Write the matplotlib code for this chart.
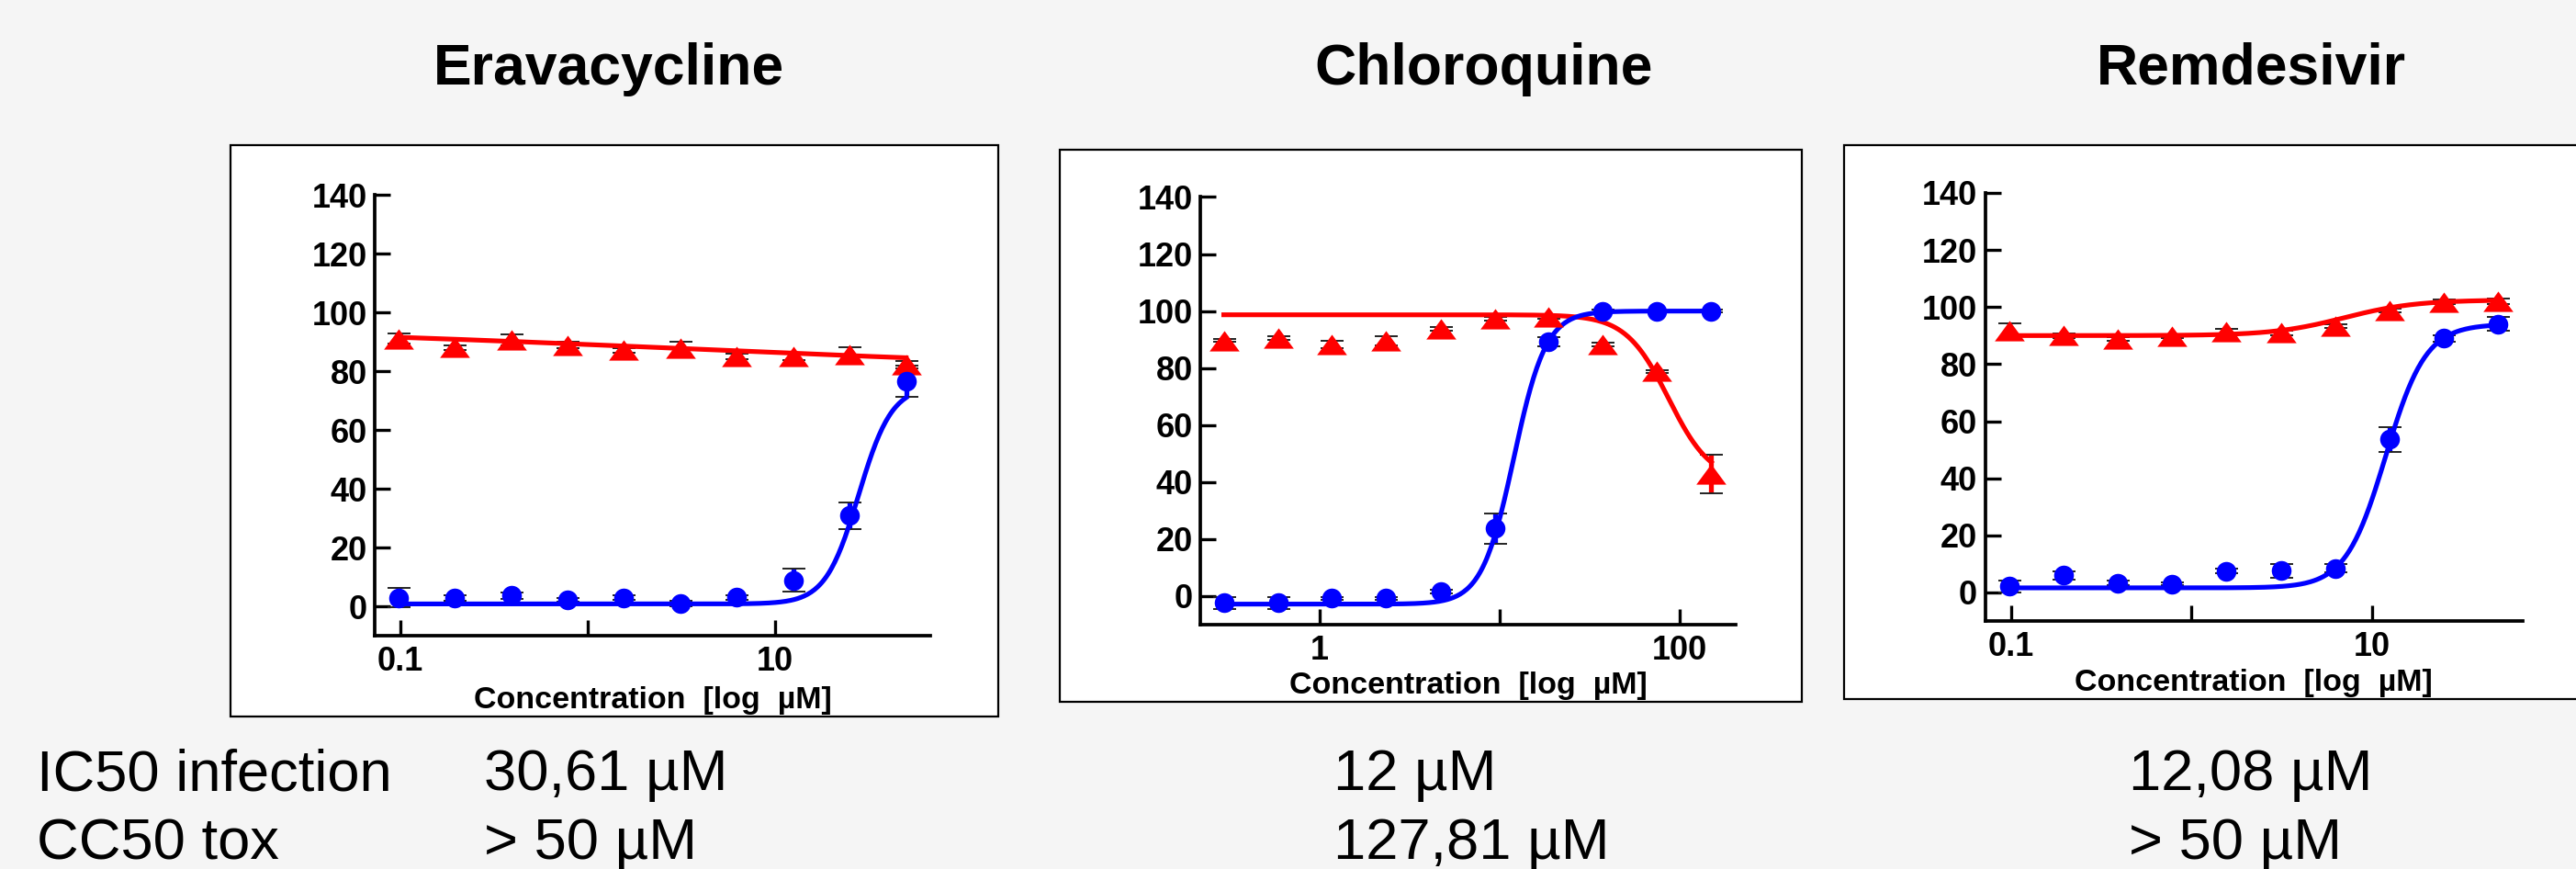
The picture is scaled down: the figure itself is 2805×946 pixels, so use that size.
import numpy as np
import matplotlib
matplotlib.use("Agg")
from matplotlib import pyplot as plt
from matplotlib.patches import Rectangle

plt.rcParams["font.family"] = ["Liberation Sans", "DejaVu Sans"]

# ---- data ----
titles = ["Eravacycline", "Chloroquine", "Remdesivir"]

conc_low = [0.098, 0.195, 0.39, 0.78, 1.56, 3.13, 6.25, 12.5, 25, 50]
conc_cq = [0.293, 0.586, 1.17, 2.34, 4.69, 9.38, 18.75, 37.5, 75, 150]

# infection (blue circles) and viability / tox (red triangles), % values
era_inf = [2.9, 2.8, 3.6, 2.3, 2.9, 1.0, 3.1, 8.9, 30.9, 76.5]
era_inf_err = [3.2, 0.8, 1.0, 0.6, 0.8, 1.0, 0.8, 3.8, 4.5, 5.4]
era_tox = [91.0, 88.1, 90.6, 88.9, 87.1, 87.7, 85.0, 84.9, 85.7, 82.2]
era_tox_err = [1.7, 0.8, 1.8, 1.0, 0.8, 2.2, 0.8, 1.0, 2.3, 1.3]

cq_inf = [-2.4, -2.4, -0.8, -0.8, 1.6, 23.7, 89.1, 100.0, 99.9, 100.0]
cq_inf_err = [2.1, 2.0, 0.6, 0.6, 0.5, 5.4, 1.6, 0.4, 0.4, 0.4]
cq_tox = [89.7, 90.5, 88.3, 89.5, 93.8, 97.2, 98.0, 88.3, 78.8, 42.9]
cq_tox_err = [0.4, 0.6, 1.4, 1.6, 0.6, 0.6, 0.6, 0.6, 0.6, 6.8]

rem_inf = [2.1, 6.0, 3.3, 3.0, 7.4, 7.6, 8.5, 53.6, 89.0, 94.0]
rem_inf_err = [2.0, 1.5, 0.8, 0.6, 0.8, 2.4, 1.5, 4.3, 1.0, 2.4]
rem_tox = [91.7, 90.0, 88.8, 89.8, 91.5, 91.0, 93.4, 98.8, 101.8, 101.9]
rem_tox_err = [2.6, 0.8, 0.6, 0.6, 0.8, 0.8, 0.6, 0.6, 0.7, 1.0]

# fitted 4PL curves: value at low conc, value at high conc, EC50, hill
era_inf_fit = [0.8, 75.0, 27.9, 4.9]
era_tox_fit = [95.7, 79.7, 3.1, 0.3]
cq_inf_fit = [-2.8, 100.0, 12.0, 4.86]
cq_tox_fit = [98.7, 40.0, 86.8, 3.66]
rem_inf_fit = [1.6, 94.0, 11.9, 3.9]
rem_tox_fit = [90.0, 102.5, 7.0, 2.2]

xtick_vals = [[0.1, 1, 10], [1, 10, 100], [0.1, 1, 10]]
xtick_labels = [["0.1", "", "10"], ["1", "", "100"], ["0.1", "", "10"]]
yticks = [0, 20, 40, 60, 80, 100, 120, 140]

row_labels = ["IC50 infection", "CC50 tox"]
ic50_text = ["30,61 µM", "12 µM", "12,08 µM"]
cc50_text = ["> 50 µM", "127,81 µM", "> 50 µM"]

panels = [
    (conc_low, era_inf, era_inf_err, era_tox, era_tox_err, era_inf_fit, era_tox_fit),
    (conc_cq, cq_inf, cq_inf_err, cq_tox, cq_tox_err, cq_inf_fit, cq_tox_fit),
    (conc_low, rem_inf, rem_inf_err, rem_tox, rem_tox_err, rem_inf_fit, rem_tox_fit),
]

# ---- layout (pixels of the 2805x946 canvas) ----
W, H = 2805, 946
axes_px = [(408, 212, 1013, 692), (1307, 214.5, 1890, 680), (2161.5, 210, 2747, 676)]
box_px = [(251, 158, 1087, 780), (1154, 163, 1962, 764), (2008, 158, 2815, 761)]
xlims = [(0.0729, 67.3), (0.217, 205), (0.0716, 68.4)]
title_x = [663, 1616, 2451]
value_x = [527, 1452, 2318]

BLUE = "#0000ff"
RED = "#ff0000"
tri = [(-1, -0.68), (1, -0.68), (0, 0.68), (-1, -0.68)]


def fourpl(x, p):
    lo, hi, c, h = p
    return lo + (hi - lo) / (1 + (c / x) ** h)


fig = plt.figure(figsize=(W / 100, H / 100), dpi=100)
fig.patch.set_facecolor("#f5f5f5")

for i, (conc, inf, inf_err, tox, tox_err, inf_fit, tox_fit) in enumerate(panels):
    bl, bt, br, bb = box_px[i]
    fig.add_artist(Rectangle((bl / W, 1 - bb / H), (br - bl) / W, (bb - bt) / H,
                             transform=fig.transFigure, facecolor="white",
                             edgecolor="black", lw=1.6, zorder=0))

    l, t, r, b = axes_px[i]
    ax = fig.add_axes([l / W, 1 - b / H, (r - l) / W, (b - t) / H])
    ax.set_facecolor("none")
    ax.set_xscale("log")
    ax.set_xlim(*xlims[i])
    ax.set_ylim(-10, 140)

    xs = np.logspace(np.log10(conc[0]), np.log10(conc[-1]), 300)
    ax.plot(xs, fourpl(xs, tox_fit), color=RED, lw=3.7, zorder=3)
    ax.plot(xs, fourpl(xs, inf_fit), color=BLUE, lw=3.7, zorder=3)

    for y, err, col, mk, ms in [(tox, tox_err, RED, tri, 23.5), (inf, inf_err, BLUE, "o", 15.5)]:
        ax.errorbar(conc, y, yerr=err, fmt="none", ecolor=col, elinewidth=3.8,
                    capsize=0, zorder=2)
        ax.errorbar(conc, y, yerr=err, fmt="none", ecolor="#222222", elinewidth=0,
                    capsize=9, capthick=1.4, zorder=2.5)
        ax.plot(conc, y, linestyle="none", marker=mk, ms=ms, color=col,
                mec=col, mew=0, zorder=4)

    for side in ["top", "right"]:
        ax.spines[side].set_visible(False)
    for side in ["left", "bottom"]:
        ax.spines[side].set_linewidth(2.7)

    ax.set_yticks(yticks)
    ax.set_xticks(xtick_vals[i], xtick_labels[i])
    ax.minorticks_off()
    ax.tick_params(axis="both", direction="in", length=12, width=2.4,
                   labelsize=26)
    ax.tick_params(axis="x", pad=8)
    ax.tick_params(axis="y", pad=6)
    for lab in ax.get_xticklabels() + ax.get_yticklabels():
        lab.set_fontweight("bold")

    fig.text((l + r) / 2 / W, 1 - (bb - 9) / H, "Concentration  [log  µM]",
             ha="center", va="baseline", fontsize=24.5, fontweight="bold")

    fig.text(title_x[i] / W, 1 - 92 / H, titles[i], ha="center", va="baseline",
             fontsize=45, fontweight="bold")
    fig.text(value_x[i] / W, 1 - 860 / H, ic50_text[i], ha="left", va="baseline",
             fontsize=45.5)
    fig.text(value_x[i] / W, 1 - 935 / H, cc50_text[i], ha="left", va="baseline",
             fontsize=45.5)

fig.text(40 / W, 1 - 860 / H, row_labels[0], ha="left", va="baseline", fontsize=45.5)
fig.text(40 / W, 1 - 935 / H, row_labels[1], ha="left", va="baseline", fontsize=45.5)

fig.savefig("out.png", dpi=100, facecolor=fig.get_facecolor())
